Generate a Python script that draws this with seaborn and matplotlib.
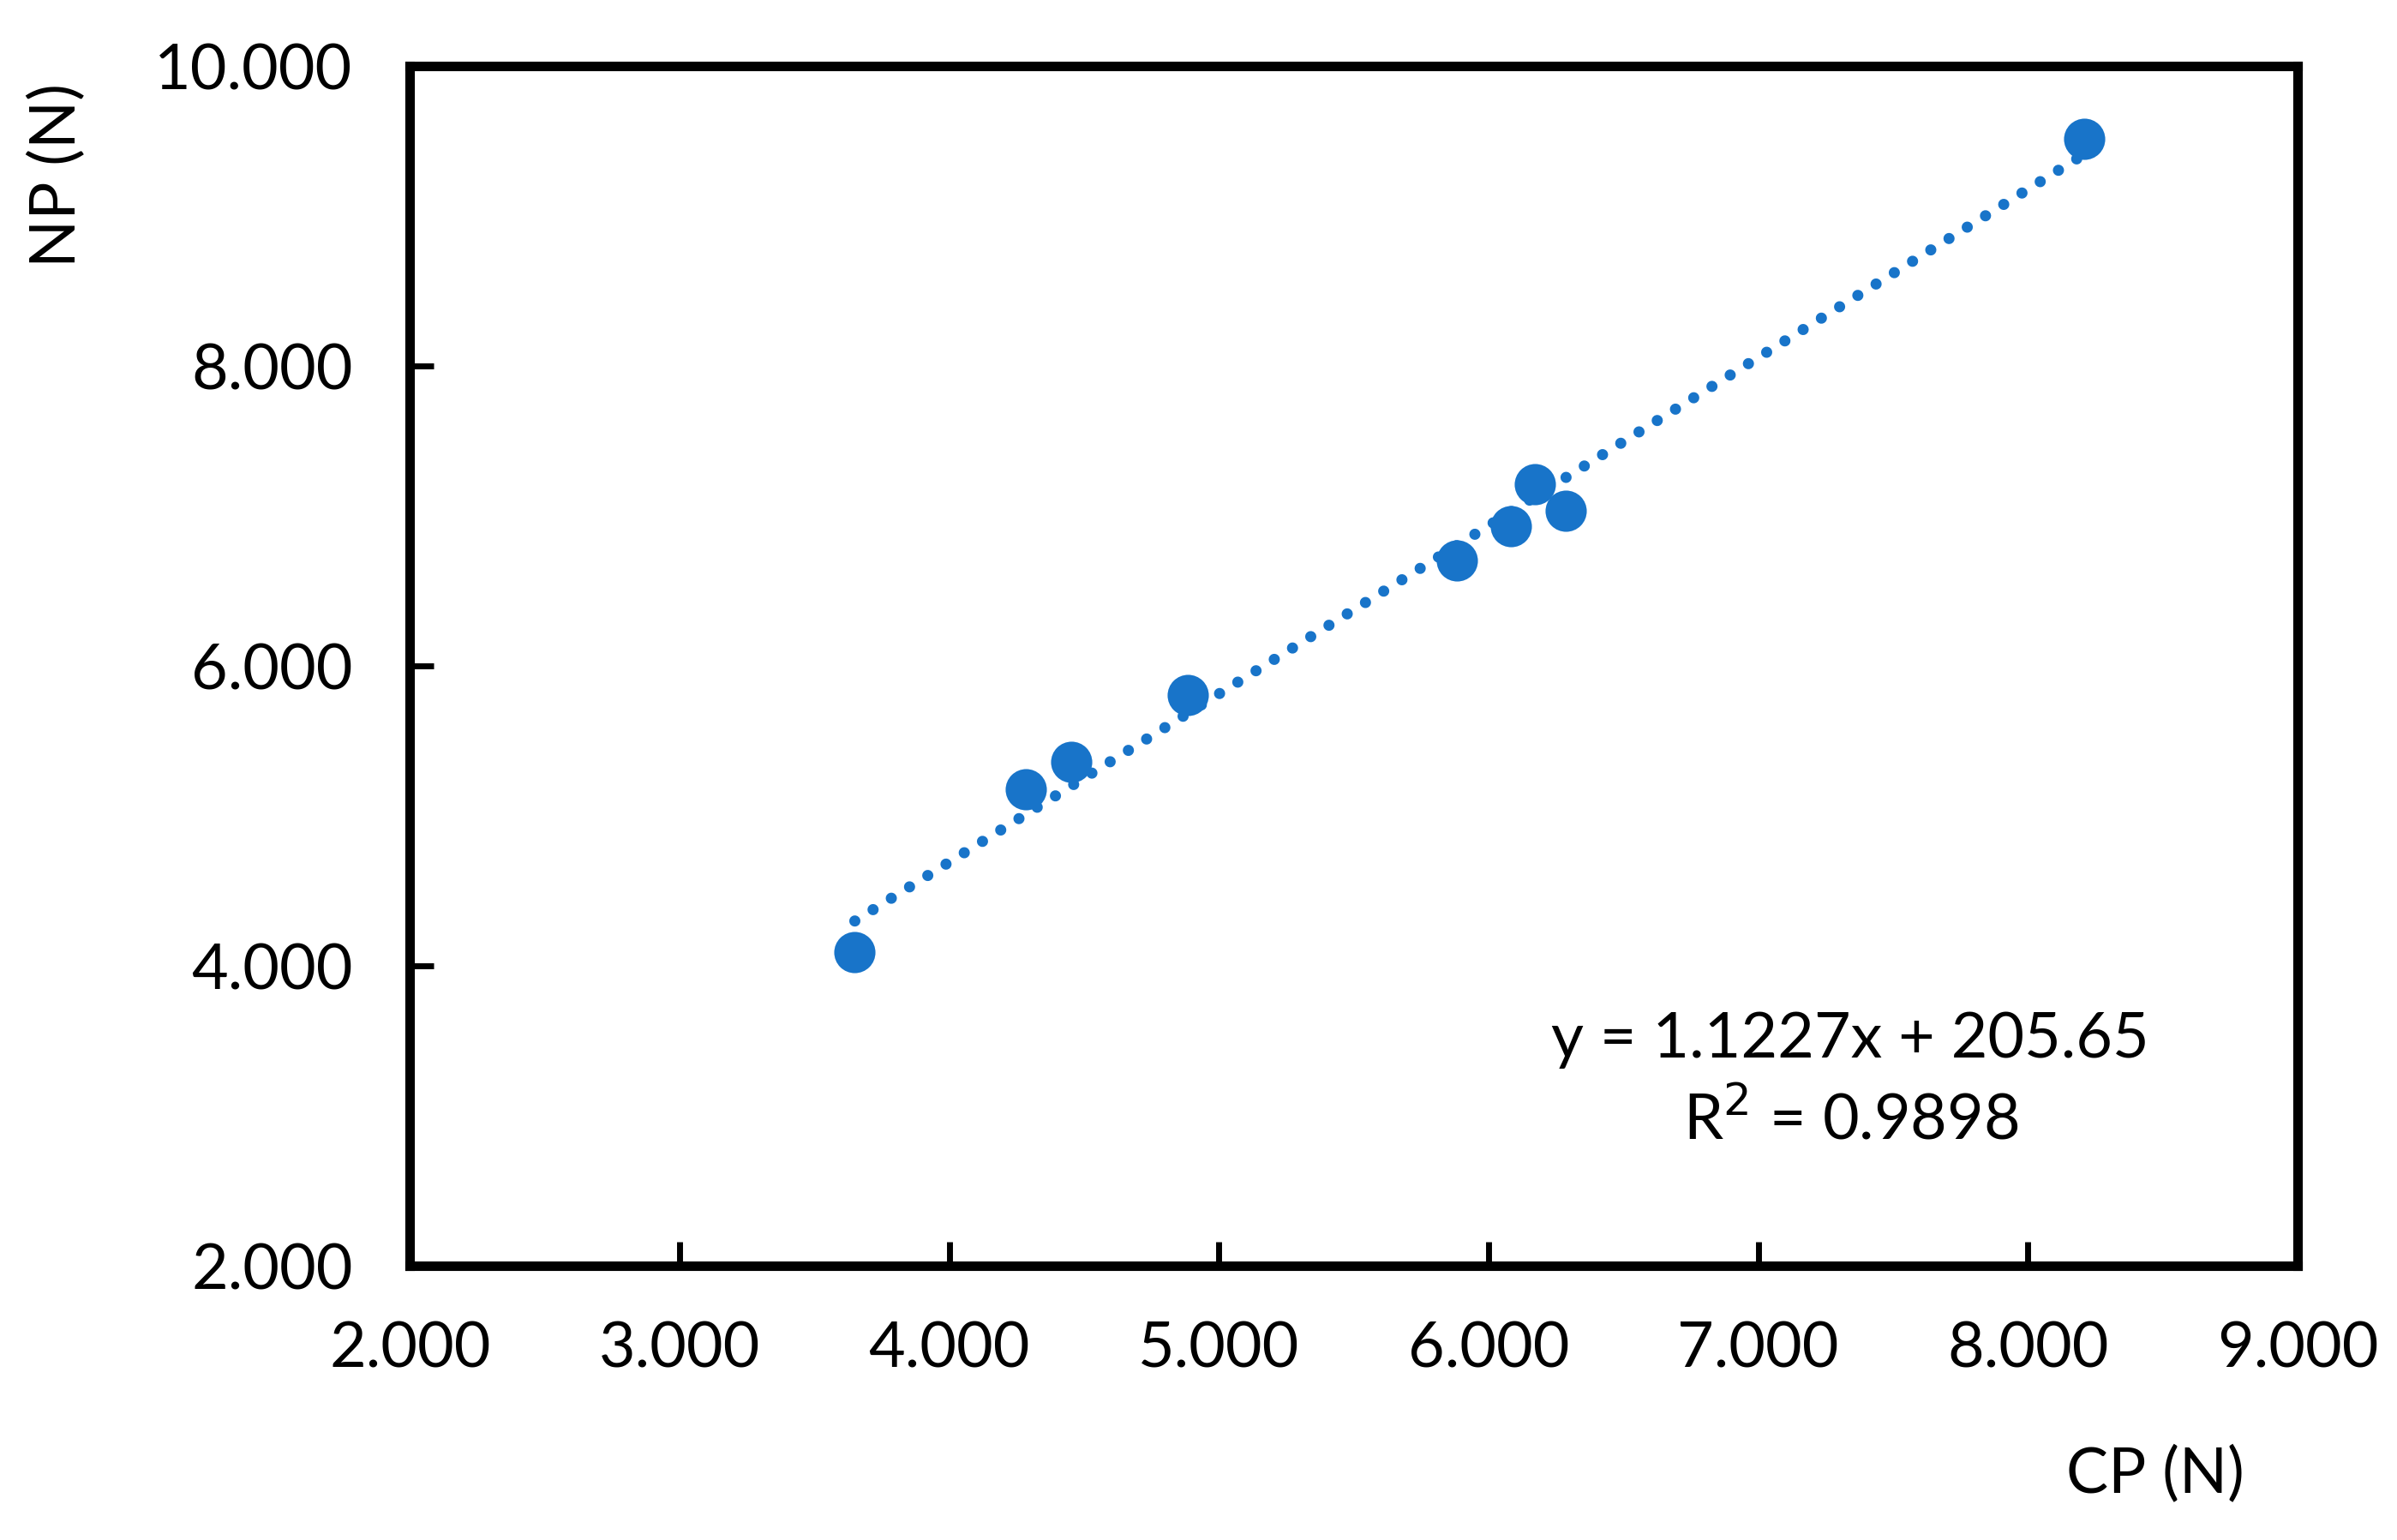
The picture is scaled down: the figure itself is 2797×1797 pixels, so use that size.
import numpy as np
import pandas as pd
import seaborn as sns
import matplotlib.pyplot as plt

# values
cp = [3650, 4285, 4452, 4884, 5883, 6083, 6172, 6286, 8209]
np_vals = [4091, 5177, 5360, 5806, 6703, 6931, 7211, 7034, 9514]
x_ticks = [2000, 3000, 4000, 5000, 6000, 7000, 8000, 9000]
y_ticks = [2000, 4000, 6000, 8000, 10000]
eq_text = "y = 1.1227x + 205.65\nR$^{2}$ = 0.9898"

df = pd.DataFrame({"CP": cp, "NP": np_vals})

sns.set_style("white", {"text.color": "black", "xtick.color": "black",
                        "ytick.color": "black", "axes.labelcolor": "black"})
plt.rcParams["font.family"] = ["Lato", "DejaVu Sans"]
blue = "#1874C9"
fs = 53

fig = plt.figure(figsize=(27.97, 17.97), dpi=100)
ax = fig.add_axes([0.171, 0.178, 0.7875, 0.779])

sns.regplot(data=df, x="CP", y="NP", ax=ax, ci=None, truncate=True,
            color=blue,
            scatter_kws={"s": 1200, "linewidths": 0, "alpha": 1, "zorder": 2},
            line_kws={"linestyle": (0, (0.001, 1.92)), "linewidth": 9.4,
                      "dash_capstyle": "round", "zorder": 3})

ax.set_xlim(2000, 9000)
ax.set_ylim(2000, 10000)
ax.set_xticks(x_ticks)
ax.set_yticks(y_ticks)
fmt = lambda v: f"{v:,.0f}".replace(",", ".")
ax.set_xticklabels([fmt(v) for v in x_ticks])
ax.set_yticklabels([fmt(v) for v in y_ticks])
ax.tick_params(axis="both", direction="in", length=20, width=5,
               labelsize=fs, color="black", labelcolor="black")
ax.tick_params(axis="y", left=True, pad=48)
ax.tick_params(axis="x", bottom=True, pad=46)
for s in ax.spines.values():
    s.set_visible(True)
    s.set_linewidth(8)
    s.set_color("black")
ax.set_xlabel("")
ax.set_ylabel("")

fig.text(0.024, 0.886, "NP (N)", rotation=90, ha="center", va="center",
         fontsize=fs, color="black")
fig.text(0.899, 0.042, "CP (N)", ha="center", va="center", fontsize=fs, color="black")
fig.text(0.772, 0.298, eq_text, ha="center", va="center",
         fontsize=fs, linespacing=1.4, color="black")

fig.savefig("out.png", dpi=100, facecolor="white")
